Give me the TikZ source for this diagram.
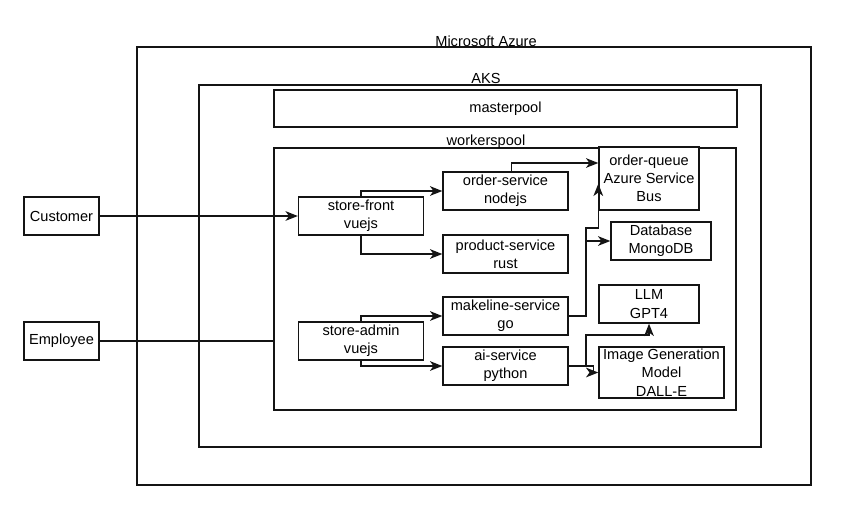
\documentclass[tikz,border=0pt]{standalone}
\usepackage{fontspec}
\setmainfont{Liberation Sans}
\usepackage{tikz}
\usetikzlibrary{calc, arrows.meta}
\definecolor{edge}{RGB}{20, 20, 20}

\begin{document}
\begin{tikzpicture}[x=0.02cm, y=-0.02cm,
    box/.style={draw=edge, line width=0.8pt, fill=white, align=center, inner sep=1pt,
      font=\fontsize{8.3}{10.4}\selectfont},
    title/.style={inner sep=0pt, font=\fontsize{8.3}{10.4}\selectfont},
    conn/.style={-{Stealth[length=7pt, width=5.5pt, inset=2pt]}, line width=0.8pt, draw=edge}]
  \useasboundingbox (0, 0) rectangle (857, 518);

  % containers
  \foreach \n/\x/\y/\w/\h in {azure/474/266/674/438, aks/480/266/562/362, master/505.5/108.5/463/37, worker/505/279/462/262} {
    \node[box, minimum width=\w*0.02cm, minimum height=\h*0.02cm] (\n) at (\x, \y) {};
  }
  \node[title] (masterlbl) at (master) { masterpool };
  \node[title] (azurelbl) at (486, 41) { Microsoft Azure };
  \node[title] (akslbl) at (486, 78) { AKS };
  \node[title] (workerlbl) at (486, 142) { workerspool };

  % services
  \foreach \n/\x/\y/\w/\h/\t in {cust/61.5/216/75/38/{Customer}, emp/61.5/341/75/38/{Employee},
      sf/361/216/125/38/{store-front\\vuejs}, sa/361/341/125/38/{store-admin\\vuejs},
      os/505.5/191/125/38/{order-service\\nodejs}, ps/505.5/254/125/38/{product-service\\rust},
      ml/505.5/316/125/38/{makeline-service\\go}, ai/505.5/366/125/38/{ai-service\\python},
      oq/649/178.5/100/63/{order-queue\\Azure Service\\Bus}, db/661/241/100/38/{Database\\MongoDB},
      llm/649/304/100/38/{LLM\\GPT4}, img/661.5/372.5/125/50/{Image Generation\\Model\\DALL-E}} {
    \node[box, minimum width=\w*0.02cm, minimum height=\h*0.02cm] (\n) at (\x, \y) { \t };
  }

  \coordinate (bus) at (586, 228);
  \coordinate (aibend) at (586, 335);

  \draw[conn] (cust) -- (sf);
  \draw[line width=0.8pt, draw=edge] (emp.east) -- (emp.east -| worker.west);
  \draw[conn] (sf.north) |- (os.west);
  \draw[conn] (sf.south) |- (ps.west);
  \draw[conn] ($(os.north)+(6, 0)$) |- ($(oq.west)+(0, -15.5)$);
  \draw[conn] (ml.east) -| (bus) -| ($(oq.south west)+(0, -27)$);
  \draw[conn] (ml.east) -| (bus |- db.west) -- (db.west);
  \draw[conn] (sa.north) |- (ml.west);
  \draw[conn] (sa.south) |- (ai.west);
  \draw[conn] (ai.east) -| (aibend) -| (llm.south);
  \draw[conn] (ai.east) -- ++(25, 0) |- (img.west);
\end{tikzpicture}
\end{document}
